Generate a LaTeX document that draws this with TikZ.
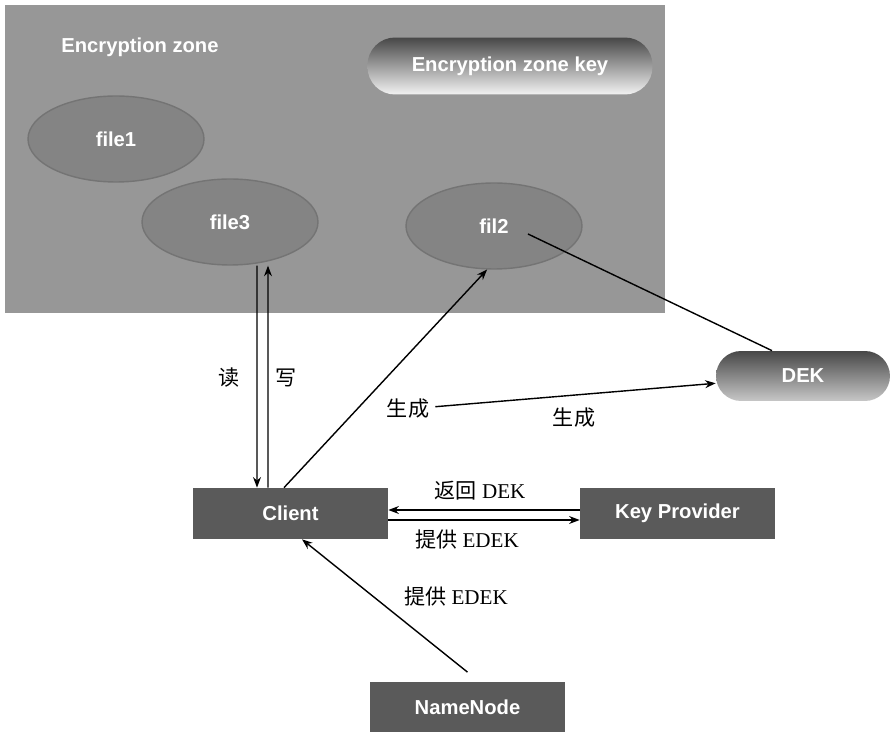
\documentclass[tikz,border=0pt]{standalone}
\usepackage{fontspec}
\setmainfont{Liberation Serif}
\setsansfont{Liberation Sans}
\newfontfamily\cjk{Noto Sans CJK SC}
\usetikzlibrary{shapes.geometric,arrows.meta}
\definecolor{zonegray}{HTML}{979797}
\definecolor{filegray}{HTML}{848484}
\definecolor{fileedge}{HTML}{747474}
\definecolor{boxgray}{HTML}{5A5A5A}
\begin{document}
\begin{tikzpicture}[x=0.02cm,y=-0.02cm,
    wtext/.style={text=white,font=\sffamily\bfseries\fontsize{11.5}{14}\selectfont},
    file/.style={wtext,ellipse,fill=filegray,draw=fileedge,line width=0.8pt,
      minimum width=3.52cm,minimum height=1.72cm},
    box/.style={wtext,fill=boxgray,minimum width=3.9cm,minimum height=1.02cm},
    lbl/.style={font=\fontsize{12}{14}\selectfont},
    arr/.style={line width=0.8pt,-{Stealth[length=6pt,width=4.5pt]}}]
  \useasboundingbox (0,0) rectangle (894,736);
  % encryption zone
  \fill[zonegray] (5,5) rectangle (665,313);
  \node[wtext] (zone) at (140,47) {Encryption zone};
  \node[wtext,rounded corners=0.55cm,top color=black!72,bottom color=black!5,
    minimum width=5.7cm,minimum height=1.14cm] (zkey) at (510,66) {Encryption zone key};
  \node[file] (file1) at (116,139) {file1};
  \node[file] (file3) at (230,222) {file3};
  \node[file] (fil2) at (494,226) {fil2};
  % outside
  \node[wtext,rounded corners=0.5cm,top color=black!72,bottom color=black!22,
    minimum width=3.48cm,minimum height=1cm] (dek) at (803,376) {DEK};
  \node[box] (client) at (290.5,513.5) {Client};
  \node[box] (kp) at (677.5,513.5) {Key Provider};
  \node[box] (nn) at (467.5,707) {NameNode};
  % labels
  \node[lbl] (rd) at (229,378) {\cjk 读};
  \node[lbl] (wr) at (286,378) {\cjk 写};
  \node[lbl] (gen) at (408,409) {\cjk 生成};
  \node[lbl] (gen2) at (574,418) {\cjk 生成};
  \node[lbl] (ret) at (480,491) {{\cjk 返回} DEK};
  \node[lbl] (prov) at (467,540) {{\cjk 提供} EDEK};
  \node[lbl] (nnprov) at (456,597) {{\cjk 提供} EDEK};
  % connectors
  \draw[arr] ([xshift=0.54cm]file3.south) -- ([xshift=-0.67cm]client.north);
  \draw[arr] ([xshift=-0.45cm]client.north) -- ([xshift=0.76cm]file3.south);
  \draw[arr] ([xshift=-0.13cm]client.north) -- (fil2.-99);
  \draw[line width=0.8pt] ([shift={(0.68cm,-0.16cm)}]fil2.center) -- ([xshift=-0.62cm]dek.north);
  \draw[arr] (gen) -- (dek);
  \draw[arr] ([yshift=0.07cm]kp.west) -- ([yshift=0.07cm]client.east);
  \draw[arr] ([yshift=-0.13cm]client.east) -- ([yshift=-0.13cm]kp.west);
  \draw[arr] ([yshift=0.18cm]nn.north) -- ([xshift=0.23cm]client.south);
\end{tikzpicture}
\end{document}
